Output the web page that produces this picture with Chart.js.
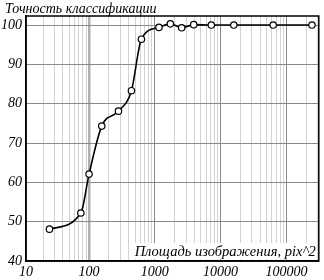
<!DOCTYPE html>
<html>
<head>
<meta charset="utf-8">
<script src="https://cdn.jsdelivr.net/npm/chart.js@4/dist/chart.umd.min.js"></script>
<style>
  html, body { margin: 0; padding: 0; background: #fff; }
  #wrap { width: 324px; height: 280px; position: relative; }
</style>
</head>
<body>
<div id="wrap"><canvas id="acc-chart"></canvas></div>
<script>
// площадь изображения (pix^2) и точность (%)
const areas = [25, 75, 100, 156, 280, 441, 625, 1156, 1722, 2560, 3906, 7225, 15876, 63001, 245025];
const accuracy = [48.1, 52.2, 62.1, 74.3, 78.1, 83.3, 96.4, 99.4, 100.3, 99.3, 100.1, 100, 100, 100, 100];
const decades = [10, 100, 1000, 10000, 100000];
const yTicks = [40, 50, 60, 70, 80, 90, 100];

const titleText = "Точность классификации";
const xTitleText = "Площадь изображения, pix^2";
const serif = "'Liberation Serif', 'DejaVu Serif', serif";

const points = areas.map((a, i) => ({ x: a, y: accuracy[i] }));

// рамка и подписи
const decor = {
  id: "decor",
  afterDraw(chart) {
    const ctx = chart.ctx;
    const a = chart.chartArea;
    ctx.save();
    ctx.font = "italic 14px " + serif;
    ctx.fillStyle = "#000";
    ctx.textBaseline = "alphabetic";
    ctx.textAlign = "left";
    ctx.fillText(titleText, 5, 13);

    ctx.font = "italic 14.5px " + serif;
    ctx.textAlign = "right";
    const w = ctx.measureText(xTitleText).width;
    ctx.fillStyle = "#fff";
    ctx.fillRect(a.right - w - 5, a.bottom - 18, w + 3, 16);
    ctx.fillStyle = "#000";
    ctx.fillText(xTitleText, a.right - 3, a.bottom - 5);

    ctx.strokeStyle = "#000";
    ctx.lineWidth = 1.5;
    ctx.strokeRect(a.left, a.top, a.right - a.left, a.bottom - a.top);
    ctx.restore();
  }
};

const config = {
  type: "line",
  data: {
    datasets: [{
      data: points,
      borderColor: "#000",
      borderWidth: 1.6,
      backgroundColor: "#fff",
      pointBackgroundColor: "#fff",
      pointBorderColor: "#000",
      pointBorderWidth: 1.2,
      pointRadius: 3.2,
      cubicInterpolationMode: "monotone",
      fill: false
    }]
  },
  options: {
    animation: false,
    responsive: true,
    maintainAspectRatio: false,
    layout: { padding: { top: 16, right: 1, left: 0, bottom: 0 } },
    plugins: { legend: { display: false }, tooltip: { enabled: false }, title: { display: false } },
    scales: {
      x: {
        type: "logarithmic",
        min: 11,
        max: 311000,
        afterBuildTicks(scale) {
          const t = [{ value: 11 }];
          decades.forEach(d => {
            for (let k = 1; k <= 9; k++) {
              const v = k * d;
              if (v > 11 && v <= scale.max) t.push({ value: v });
            }
          });
          scale.ticks = t;
        },
        afterFit(scale) { scale.height = 19; },
        grid: {
          drawTicks: false,
          color(c) {
            const v = c.tick.value;
            if (v === 100) return "#b0b0b0";
            return decades.includes(v) ? "#8a8a8a" : "#d2d2d2";
          },
          lineWidth(c) { return c.tick.value === 100 ? 2.5 : 1; }
        },
        border: { color: "#000", width: 1.5 },
        ticks: {
          autoSkip: false,
          maxRotation: 0,
          padding: 3,
          color: "#000",
          font: { family: serif, style: "italic", size: 14 },
          callback(v, i) {
            if (i === 0) return "10";
            return decades.includes(v) ? String(v) : "";
          }
        }
      },
      y: {
        min: 40,
        max: 102.3,
        afterBuildTicks(scale) { scale.ticks = yTicks.map(v => ({ value: v })); },
        afterFit(scale) { scale.width = 26; },
        grid: { drawTicks: false, color: "#8a8a8a", lineWidth: 1 },
        border: { color: "#000", width: 1.5 },
        ticks: {
          padding: 4,
          color: "#000",
          font: { family: serif, style: "italic", size: 14 }
        }
      }
    }
  },
  plugins: [decor]
};

let accChart = new Chart(document.getElementById("acc-chart"), config);
</script>
</body>
</html>
